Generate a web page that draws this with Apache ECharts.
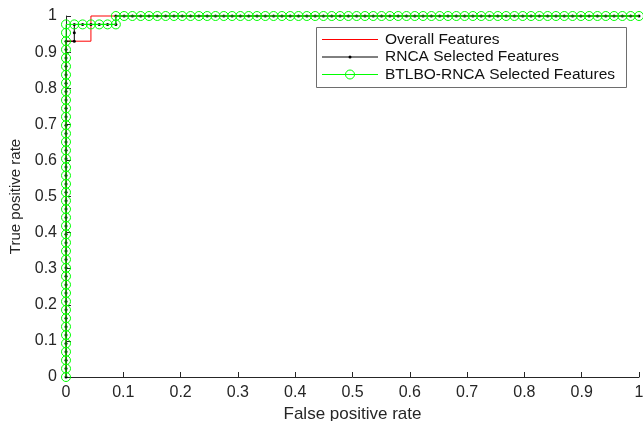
<!DOCTYPE html>
<html>
<head>
<meta charset="utf-8">
<script src="https://cdn.jsdelivr.net/npm/echarts@6/dist/echarts.min.js"></script>
<style>html,body{margin:0;padding:0;background:#fff}#c{width:643px;height:421px}</style>
</head>
<body>
<div id="c"></div>
<script>
// Tick labels
const xTickLabels = ['0','0.1','0.2','0.3','0.4','0.5','0.6','0.7','0.8','0.9','1'];
const yTickLabels = ['0','0.1','0.2','0.3','0.4','0.5','0.6','0.7','0.8','0.9','1'];
const seriesNames = ['Overall Features','RNCA Selected Features','BTLBO-RNCA Selected Features'];
const seriesColors = ['#ff0000','#000000','#00ff00'];

// Overall Features ROC
const overallFpr = [0, 0, 0.0435, 0.0435, 1];
const overallTpr = [0, 0.9302, 0.9302, 1, 1];

// shared vertical segment TPR values at FPR = 0
const colTpr = [0,0.0233,0.0465,0.0698,0.0930,0.1163,0.1395,0.1628,0.1860,0.2093,0.2326,0.2558,0.2791,0.3023,0.3256,0.3488,0.3721,0.3953,0.4186,0.4419,0.4651,0.4884,0.5116,0.5349,0.5581,0.5814,0.6047,0.6279,0.6512,0.6744,0.6977,0.7209,0.7442,0.7674,0.7907,0.8140,0.8372,0.8605,0.8837,0.9070,0.9302,0.9535,0.9767];
// top row FPR values at TPR = 1
const topFpr = [0.0870,0.1014,0.1159,0.1304,0.1449,0.1594,0.1739,0.1884,0.2029,0.2174,0.2319,0.2464,0.2609,0.2754,0.2899,0.3043,0.3188,0.3333,0.3478,0.3623,0.3768,0.3913,0.4058,0.4203,0.4348,0.4493,0.4638,0.4783,0.4928,0.5072,0.5217,0.5362,0.5507,0.5652,0.5797,0.5942,0.6087,0.6232,0.6377,0.6522,0.6667,0.6812,0.6957,0.7101,0.7246,0.7391,0.7536,0.7681,0.7826,0.7971,0.8116,0.8261,0.8406,0.8551,0.8696,0.8841,0.8986,0.9130,0.9275,0.9420,0.9565,0.9710,0.9855,1.0000];
// row at TPR = 0.9767
const midFpr = [0.0145,0.0290,0.0435,0.0580,0.0725,0.0870];
const midTpr = 0.9767;

// RNCA: vertical up to 0.9302, then step
const rncaFpr = [].concat(colTpr.slice(0,41).map(()=>0), [0.0145,0.0145,0.0145], midFpr.slice(1), topFpr);
const rncaTpr = [].concat(colTpr.slice(0,41), [0.9302,0.9535,0.9767], midFpr.slice(1).map(()=>midTpr), topFpr.map(()=>1));

// BTLBO-RNCA
const btlboFpr = [].concat(colTpr.map(()=>0), midFpr, topFpr);
const btlboTpr = [].concat(colTpr, midFpr.map(()=>midTpr), topFpr.map(()=>1));

const zip = (a,b) => a.map((v,i)=>[v,b[i]]);

const font = 'Liberation Sans, Arial, sans-serif';
const axisColor = '#262626';

// legend drawn as graphic elements (box, sample lines, markers, real text)
const lgX = 316, lgY = 27, lgW = 310, lgH = 60;
const rowY = [39, 56.5, 74];
const legendGraphics = [
  {id:'lg-box', type:'rect', shape:{x:lgX+0.5, y:lgY+0.5, width:lgW, height:lgH},
   style:{fill:'#ffffff', stroke:'#6e6e6e', lineWidth:1}, z:100}
];
seriesNames.forEach((nm,i)=>{
  legendGraphics.push({id:'lg-line-'+i, type:'polyline',
    shape:{points:[[322, rowY[i]+0.5],[378, rowY[i]+0.5]]},
    style:{stroke:seriesColors[i], fill:null, lineWidth:1}, z:101});
  if (i===1) legendGraphics.push({id:'lg-dot', type:'circle', shape:{cx:350, cy:rowY[i]+0.5, r:1.5},
    style:{fill:'#000000'}, z:102});
  if (i===2) legendGraphics.push({id:'lg-ring', type:'circle', shape:{cx:350, cy:rowY[i]+0.5, r:4.5},
    style:{fill:null, stroke:'#00ff00', lineWidth:1}, z:102});
  legendGraphics.push({id:'lg-text-'+i, type:'text', x:385, y:rowY[i]+0.5,
    style:{text:nm, font:'15.5px Liberation Sans, Arial, sans-serif', fill:'#111111', verticalAlign:'middle', align:'left'}, z:103});
});

const chart = echarts.init(document.getElementById('c'), null, {renderer:'canvas'});
chart.setOption({
  backgroundColor:'#fff',
  animation:false,
  grid:{left:66, right:4, top:16, bottom:44, containLabel:false, outerBoundsMode:'none'},
  xAxis:{
    type:'value', min:0, max:1, interval:0.1,
    name:'False positive rate', nameLocation:'middle', nameGap:26,
    nameTextStyle:{fontFamily:font, fontSize:17, color:axisColor},
    axisLine:{lineStyle:{color:axisColor, width:1}},
    axisTick:{inside:true, length:5, lineStyle:{color:axisColor}},
    axisLabel:{fontFamily:font, fontSize:16, color:axisColor, margin:8,
      formatter:(v)=>xTickLabels[Math.round(v*10)]},
    splitLine:{show:false}
  },
  yAxis:{
    type:'value', min:0, max:1, interval:0.1,
    name:'True positive rate', nameLocation:'middle', nameGap:39,
    nameTextStyle:{fontFamily:font, fontSize:15, color:axisColor},
    axisLine:{show:true, lineStyle:{color:axisColor, width:1}},
    axisTick:{show:true, inside:true, length:5, lineStyle:{color:axisColor}},
    axisLabel:{fontFamily:font, fontSize:16, color:axisColor, margin:9,
      formatter:(v)=>yTickLabels[Math.round(v*10)]},
    splitLine:{show:false}
  },
  graphic:{elements:legendGraphics},
  series:[
    {name:seriesNames[0], type:'line', data:zip(overallFpr, overallTpr), symbol:'none', clip:false,
     lineStyle:{color:seriesColors[0], width:1}, itemStyle:{color:seriesColors[0]}, z:1},
    {name:seriesNames[1], type:'line', data:zip(rncaFpr, rncaTpr), symbol:'circle', symbolSize:3, clip:false,
     lineStyle:{color:seriesColors[1], width:1}, itemStyle:{color:seriesColors[1]}, z:2},
    {name:seriesNames[2], type:'line', data:zip(btlboFpr, btlboTpr), symbol:'circle', symbolSize:9, clip:false,
     lineStyle:{color:seriesColors[2], width:1},
     itemStyle:{color:'rgba(0,0,0,0)', borderColor:seriesColors[2], borderWidth:1}, z:3}
  ]
});
</script>
</body>
</html>
